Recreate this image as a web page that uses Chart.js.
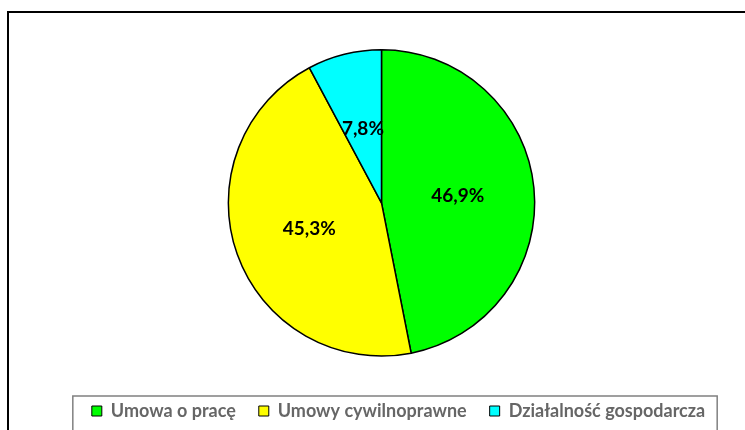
<!DOCTYPE html>
<html>
<head>
<meta charset="utf-8">
<script src="https://cdn.jsdelivr.net/npm/chart.js@4"></script>
<style>
  html, body { margin: 0; padding: 0; background: #fff; }
  #wrap { position: relative; width: 745px; height: 430px; overflow: hidden; }
  #frame { position: absolute; left: 7px; top: 11px; width: 760px; height: 440px; border: 2px solid #000; box-sizing: border-box; }
  canvas { position: absolute; left: 0; top: 0; }
</style>
</head>
<body>
<div id="wrap">
  <div id="frame"></div>
  <canvas id="myChart" width="745" height="430"></canvas>
</div>
<script>
const labels = ['Umowa o pracę', 'Umowy cywilnoprawne', 'Działalność gospodarcza'];
const values = [46.9, 45.3, 7.8];
const colors = ['#00ff00', '#ffff00', '#00ffff'];

// percentage labels inside the slices
const sliceLabels = {
  id: 'sliceLabels',
  afterDatasetsDraw(chart) {
    const ctx = chart.ctx;
    const meta = chart.getDatasetMeta(0);
    ctx.save();
    ctx.font = 'bold 19px Lato, "DejaVu Sans", sans-serif';
    ctx.fillStyle = '#000';
    ctx.textAlign = 'center';
    ctx.textBaseline = 'middle';
    meta.data.forEach((arc, i) => {
      const p = arc.getProps(['x', 'y', 'startAngle', 'endAngle', 'outerRadius']);
      const mid = (p.startAngle + p.endAngle) / 2;
      const r = p.outerRadius * 0.5;
      ctx.fillText(values[i].toFixed(1).replace('.', ',') + '%', p.x + Math.cos(mid) * r, p.y + Math.sin(mid) * r);
    });
    ctx.restore();
  }
};

// legend sits a bit right of the pie centre, with a grey frame around it
const legendFrame = {
  id: 'legendFrame',
  afterLayout(chart) {
    const lg = chart.legend;
    lg.left += 17;
    lg.right += 17;
  },
  afterDraw(chart) {
    const lg = chart.legend;
    if (!lg || !lg.legendHitBoxes.length) return;
    const boxes = lg.legendHitBoxes;
    const left = boxes[0].left - 19;
    const last = boxes[boxes.length - 1];
    const right = last.left + last.width + 12;
    const ctx = chart.ctx;
    ctx.save();
    ctx.strokeStyle = '#808080';
    ctx.lineWidth = 1.5;
    ctx.strokeRect(left, boxes[0].top - 6, right - left, 60);
    ctx.restore();
  }
};

new Chart(document.getElementById('myChart').getContext('2d'), {
  type: 'pie',
  data: {
    labels: labels,
    datasets: [{
      data: values,
      backgroundColor: colors,
      borderColor: '#000',
      borderWidth: 1.5
    }]
  },
  options: {
    responsive: false,
    animation: false,
    layout: { padding: { left: 18, right: 0, top: 49, bottom: 0 } },
    plugins: {
      tooltip: { enabled: false },
      legend: {
        position: 'bottom',
        title: { display: true, text: ' ', font: { size: 1 }, padding: { top: 21, bottom: 0 } },
        labels: {
          boxWidth: 10,
          boxHeight: 10,
          padding: 23,
          color: '#000',
          font: { family: 'Lato, "DejaVu Sans", sans-serif', size: 18, weight: 'bold' },
          generateLabels(chart) {
            return labels.map((l, i) => ({
              text: l,
              fillStyle: colors[i],
              strokeStyle: '#000',
              lineWidth: 1,
              index: i
            }));
          }
        }
      }
    }
  },
  plugins: [sliceLabels, legendFrame]
});
</script>
</body>
</html>
